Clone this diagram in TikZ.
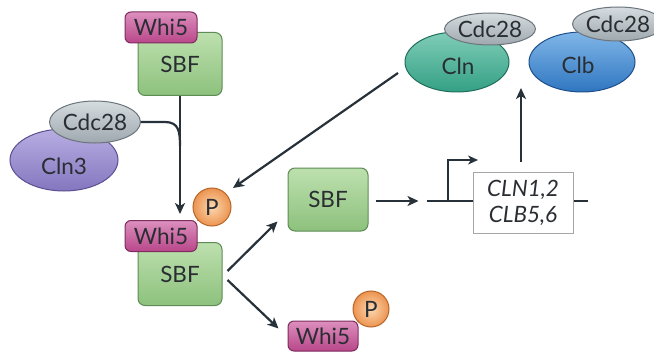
\documentclass[tikz,border=0pt]{standalone}
\usepackage{fontspec}
\setmainfont{Lato}
\usetikzlibrary{shapes.geometric,arrows.meta,calc}
\definecolor{txt}{HTML}{2A2E33}
\definecolor{arrc}{HTML}{27313A}
\definecolor{whiT}{HTML}{DC8FBE}\definecolor{whiB}{HTML}{B9478A}\definecolor{whiD}{HTML}{7D2C5E}
\definecolor{sbfT}{HTML}{BDE0AE}\definecolor{sbfB}{HTML}{8DC17D}\definecolor{sbfD}{HTML}{5E8C55}
\definecolor{cdcT}{HTML}{D6DCE0}\definecolor{cdcB}{HTML}{9EA8AE}\definecolor{cdcD}{HTML}{6B757B}
\definecolor{c3T}{HTML}{B8AEE2}\definecolor{c3B}{HTML}{8476BF}\definecolor{c3D}{HTML}{5B4F92}
\definecolor{clnT}{HTML}{80CDB8}\definecolor{clnB}{HTML}{33A084}\definecolor{clnD}{HTML}{1F6E5B}
\definecolor{clbT}{HTML}{80B6E8}\definecolor{clbB}{HTML}{2F76C0}\definecolor{clbD}{HTML}{1E4F8A}
\definecolor{pI}{HTML}{FCD8B0}\definecolor{pO}{HTML}{EC9450}\definecolor{pD}{HTML}{B8652A}
\tikzset{
  lbl/.style={font=\fontsize{22.5}{25}\selectfont, text=txt},
  whi/.style={lbl, rectangle, rounded corners=6pt, draw=whiD, line width=1pt,
    top color=whiT, bottom color=whiB,
    minimum width=72pt, minimum height=31pt, inner sep=0pt},
  sbf/.style={lbl, rectangle, rounded corners=7pt, draw=sbfD, line width=1pt,
    top color=sbfT, bottom color=sbfB,
    minimum width=84pt, minimum height=63pt, inner sep=0pt},
  cdc/.style={lbl, ellipse, draw=cdcD, line width=1pt,
    top color=cdcT, bottom color=cdcB,
    minimum width=76pt, minimum height=34pt, inner sep=0pt},
  cyc/.style={lbl, ellipse, line width=1pt, minimum width=106pt, minimum height=60pt, inner sep=0pt},
  phos/.style={lbl, circle, draw=pD, line width=1pt, inner sep=0pt,
    inner color=pI, outer color=pO, minimum size=38pt},
  arr/.style={draw=arrc, line width=2.2pt, -{Stealth[length=11pt,width=10pt,inset=3pt]}},
  ln/.style={draw=arrc, line width=2.2pt},
}
\begin{document}
\begin{tikzpicture}[x=1pt,y=-1pt]
\useasboundingbox (0,0) rectangle (654,353);
\fill[white] (0,0) rectangle (654,353);

% top complex
\node[sbf] (SBFa) at (180,64) {SBF};
\node[whi] (Whia) at (161,27.5) {Whi5};

% Cln3 / Cdc28
\node[cyc, minimum width=108pt, minimum height=62pt, draw=c3D,
  top color=c3T, bottom color=c3B] (Cln3) at (64,160) {};
\node[lbl] (Cln3t) at (64,166) {Cln3};
\node[cdc, minimum width=84pt, minimum height=42pt] (Cdca) at (95,122) {Cdc28};

% lower complex
\node[sbf] (SBFb) at (180,274) {SBF};
\node[whi] (Whib) at (161,236) {Whi5};
\node[phos] (Pb) at (212,207) {P};
\draw[pD, line width=1pt] (Whib.north east) -- (Pb.225);

% middle SBF
\node[sbf, minimum width=80pt] (SBFc) at (328,199.5) {SBF};

% bottom Whi5 + P
\node[whi, minimum width=70pt, minimum height=30pt] (Whic) at (323,336) {Whi5};
\node[phos, minimum size=36pt] (Pc) at (371,309) {P};
\draw[pD, line width=1pt] (Whic.north east) -- (Pc.225);

% gene box
\node[lbl, rectangle, draw=gray!70, line width=1pt, fill=white, minimum width=100pt, minimum height=61pt,
  align=center, inner sep=0pt, font=\fontsize{22.5}{26}\selectfont\itshape] (gene) at (523,202.5) {CLN1,2\\CLB5,6};

% Cln / Clb with Cdc28
\node[cyc, minimum width=104pt, draw=clnD,
  top color=clnT, bottom color=clnB] (Cln) at (457,62) {};
\node[lbl] (Clnt) at (458,66) {Cln};
\node[cdc, minimum width=74pt, minimum height=32pt] (Cdcb) at (490,29) {Cdc28};
\node[cyc, draw=clbD,
  top color=clbT, bottom color=clbB] (Clb) at (582,62) {};
\node[lbl] (Clbt) at (578,65) {Clb};
\node[cdc, minimum width=74pt, minimum height=34pt] (Cdcc) at (618,24) {Cdc28};

% connectors
\coordinate (join) at (180,146);
\coordinate (tipA) at (180,214);
\draw[ln] (Cdca.east) -- ($(Cdca.east)+(24,0)$) .. controls ($(Cdca.east)+(38,0)$) and (join |- 0,132) .. (join);
\draw[arr] (SBFa.south) -- (tipA);

\draw[arr] ($(Cln.center)+(-59,11)$) -- ($(Pb.center)+(21,-19)$);

\draw[arr] ($(SBFb.east)+(5,-3)$) -- ($(SBFc.west)+(-10,22)$);
\draw[arr] ($(SBFb.east)+(5,6)$) -- ($(Whic.north west)+(-9,8)$);

\draw[arr] ($(SBFc.east)+(7,1.5)$) -- ($(SBFc.east)+(50,1.5)$);

\coordinate (gl) at (427,201);
\coordinate (gr) at (588,201);
\coordinate (prom) at (448,201);
\draw[ln] (gl) -- (gene.west |- gl);
\draw[ln] (gene.east |- gr) -- (gr);
\draw[draw=arrc, line width=2.2pt, -{Stealth[length=10pt,width=9pt,inset=3pt]}] (prom) -- ($(prom)+(0,-41)$) -- ($(prom)+(30,-41)$);

\coordinate (upT) at (521,88);
\draw[arr] ($(gene.north)+(-2,-10)$) -- (upT);
\end{tikzpicture}
\end{document}
